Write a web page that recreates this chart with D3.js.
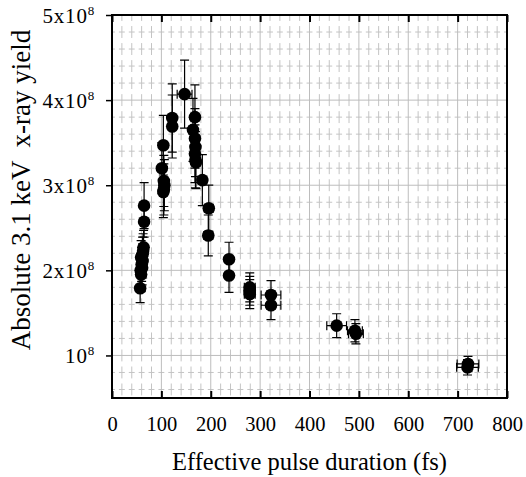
<!DOCTYPE html>
<html>
<head>
<meta charset="utf-8">
<script src="https://cdn.jsdelivr.net/npm/d3@7"></script>
<style>
    body { margin: 0; background: #fff; }
    svg text { font-family: 'Liberation Serif', 'Times New Roman', serif; fill: #000; }
</style>
</head>
<body>
<svg id="chart" width="526" height="477"></svg>
<script>
// x-ray yield vs effective pulse duration

// pulse duration (fs) and its error
const durations = [57, 59, 58, 61, 60, 62, 59, 62, 63, 64, 65, 65,
                   101, 104, 105, 106, 105, 104,
                   122, 122, 147,
                   168, 164, 168, 169, 168, 169, 170,
                   183, 196, 195,
                   237, 237,
                   279, 279, 279,
                   322, 322,
                   455, 492, 494,
                   721, 720];
const duration_err = [3, 3, 3, 3, 3, 3, 3, 3, 3, 3, 3, 3,
                      5, 5, 5, 5, 5, 5,
                      6, 6, 15,
                      8, 8, 8, 8, 8, 8, 8,
                      9, 9, 9,
                      6, 6,
                      11, 11, 11,
                      20, 20,
                      20, 15, 15,
                      22, 22];

// yield in units of 1e8 and its error
const yields = [1.79, 1.95, 2.00, 2.03, 2.07, 2.11, 2.15, 2.19, 2.23, 2.27, 2.57, 2.76,
                3.20, 3.47, 3.05, 3.00, 2.95, 2.92,
                3.79, 3.69, 4.07,
                3.80, 3.65, 3.55, 3.45, 3.37, 3.30, 3.27,
                3.06, 2.73, 2.41,
                2.13, 1.94,
                1.80, 1.76, 1.72,
                1.71, 1.59,
                1.35, 1.29, 1.255,
                0.90, 0.86];
const yield_err = [0.17, 0.20, 0.20, 0.20, 0.20, 0.20, 0.20, 0.20, 0.20, 0.20, 0.18, 0.27,
                   0.30, 0.35, 0.30, 0.30, 0.30, 0.30,
                   0.40, 0.37, 0.40,
                   0.38, 0.37, 0.35, 0.35, 0.34, 0.33, 0.31,
                   0.30, 0.27, 0.24,
                   0.20, 0.20,
                   0.17, 0.17, 0.17,
                   0.17, 0.17,
                   0.14, 0.13, 0.12,
                   0.09, 0.09];

// axes
const x_ticks = [0, 100, 200, 300, 400, 500, 600, 700, 800];
const y_ticks = [1, 2, 3, 4, 5];
const y_tick_labels = ['', '2x', '3x', '4x', '5x'];

function draw_chart() {
    const svg = d3.select('#chart');
    const left = 112, right = 507, plot_top = 15, plot_bottom = 398;
    const serif = "'Liberation Serif', 'Times New Roman', serif";

    const xScale = d3.scaleLinear().domain([0, 800]).range([left, right]);
    const yScale = d3.scaleLinear().domain([0.5, 5]).range([plot_bottom, plot_top]);

    const x_minor = d3.range(0, 801, 20).filter((v) => v % 100 !== 0);
    const y_minor = d3.range(6, 50, 2).filter((v) => v % 10 !== 0).map((v) => v / 10);

    // minor grid, dashed so the crossings look like little crosses
    const xPeriod = xScale(20) - xScale(0);
    const yPeriod = yScale(4.8) - yScale(5);
    const grid = svg.append('g');

    grid.selectAll('.hminor')
        .data(y_minor)
        .enter()
        .append('line')
        .attr('x1', left).attr('x2', right)
        .attr('y1', (d) => yScale(d)).attr('y2', (d) => yScale(d))
        .attr('stroke', '#c4c4c4')
        .attr('stroke-dasharray', `${xPeriod * 0.6} ${xPeriod * 0.4}`)
        .attr('stroke-dashoffset', xPeriod * 0.3);

    grid.selectAll('.vminor')
        .data(x_minor)
        .enter()
        .append('line')
        .attr('x1', (d) => xScale(d)).attr('x2', (d) => xScale(d))
        .attr('y1', plot_top).attr('y2', plot_bottom)
        .attr('stroke', '#c4c4c4')
        .attr('stroke-dasharray', `${yPeriod * 0.7} ${yPeriod * 0.3}`)
        .attr('stroke-dashoffset', yPeriod * 0.35);

    // major grid
    grid.selectAll('.vmajor')
        .data(x_ticks.slice(1, -1))
        .enter()
        .append('line')
        .attr('x1', (d) => xScale(d)).attr('x2', (d) => xScale(d))
        .attr('y1', plot_top).attr('y2', plot_bottom)
        .attr('stroke', '#bdbdbd');

    grid.selectAll('.hmajor')
        .data(y_ticks.slice(0, -1))
        .enter()
        .append('line')
        .attr('x1', left).attr('x2', right)
        .attr('y1', (d) => yScale(d)).attr('y2', (d) => yScale(d))
        .attr('stroke', '#bdbdbd');

    // error bars
    const cap = 4.5;
    const bars = svg.append('g').attr('stroke', '#000').attr('stroke-width', 1.2);
    const idx = d3.range(durations.length);

    bars.selectAll('.ey')
        .data(idx)
        .enter()
        .append('path')
        .attr('fill', 'none')
        .attr('d', (i) => {
            const x = xScale(durations[i]);
            const y1 = yScale(yields[i] - yield_err[i]);
            const y2 = yScale(yields[i] + yield_err[i]);
            return `M${x},${y1}V${y2}M${x - cap},${y1}H${x + cap}M${x - cap},${y2}H${x + cap}`;
        });

    bars.selectAll('.ex')
        .data(idx)
        .enter()
        .append('path')
        .attr('fill', 'none')
        .attr('d', (i) => {
            const y = yScale(yields[i]);
            const x1 = xScale(durations[i] - duration_err[i]);
            const x2 = xScale(durations[i] + duration_err[i]);
            return `M${x1},${y}H${x2}M${x1},${y - cap}V${y + cap}M${x2},${y - cap}V${y + cap}`;
        });

    // points
    svg.append('g')
        .selectAll('circle')
        .data(idx)
        .enter()
        .append('circle')
        .attr('cx', (i) => xScale(durations[i]))
        .attr('cy', (i) => yScale(yields[i]))
        .attr('r', 6.3)
        .attr('fill', '#000');

    // frame
    svg.append('rect')
        .attr('x', left).attr('y', plot_top)
        .attr('width', right - left).attr('height', plot_bottom - plot_top)
        .attr('fill', 'none')
        .attr('stroke', '#000')
        .attr('stroke-width', 2);

    // x axis, ticks pointing inward at top and bottom
    svg.append('g')
        .attr('transform', `translate(0, ${plot_bottom})`)
        .call(d3.axisBottom(xScale).tickValues(x_ticks).tickSizeInner(-7).tickSizeOuter(0).tickPadding(18))
        .call((g) => g.select('.domain').remove())
        .call((g) => g.selectAll('line').attr('stroke-width', 2))
        .call((g) => g.selectAll('text').attr('font-size', 20.5).attr('font-family', serif));

    svg.append('g')
        .attr('transform', `translate(0, ${plot_top})`)
        .call(d3.axisTop(xScale).tickValues(x_ticks).tickSizeInner(-7).tickSizeOuter(0).tickFormat(''))
        .call((g) => g.select('.domain').remove())
        .call((g) => g.selectAll('line').attr('stroke-width', 2));

    // y axis, ticks outward
    const yAxis = svg.append('g')
        .attr('transform', `translate(${left}, 0)`)
        .call(d3.axisLeft(yScale).tickValues(y_ticks).tickSizeInner(6).tickSizeOuter(0).tickFormat(''))
        .call((g) => g.select('.domain').remove())
        .call((g) => g.selectAll('line').attr('stroke-width', 1.5));

    yAxis.selectAll('.tick').each(function (d, i) {
        const t = d3.select(this).append('text')
            .attr('x', -17)
            .attr('dy', '0.34em')
            .attr('text-anchor', 'end')
            .attr('font-size', 21)
            .attr('letter-spacing', 0.8)
            .attr('font-family', serif);
        t.append('tspan').text(y_tick_labels[i] + '10');
        t.append('tspan').attr('font-size', 13).attr('dy', -8).text('8');
    });

    // axis titles
    svg.append('text')
        .attr('x', (left + right) / 2)
        .attr('y', 470)
        .attr('text-anchor', 'middle')
        .attr('font-size', 24.5)
        .attr('font-family', serif)
        .text('Effective pulse duration (fs)');

    svg.append('text')
        .attr('transform', 'translate(30, 190) rotate(-90)')
        .attr('text-anchor', 'middle')
        .attr('font-size', 27)
        .attr('font-family', serif)
        .style('white-space', 'pre')
        .text('Absolute 3.1 keV  x-ray yield');
}

draw_chart();
</script>
</body>
</html>
